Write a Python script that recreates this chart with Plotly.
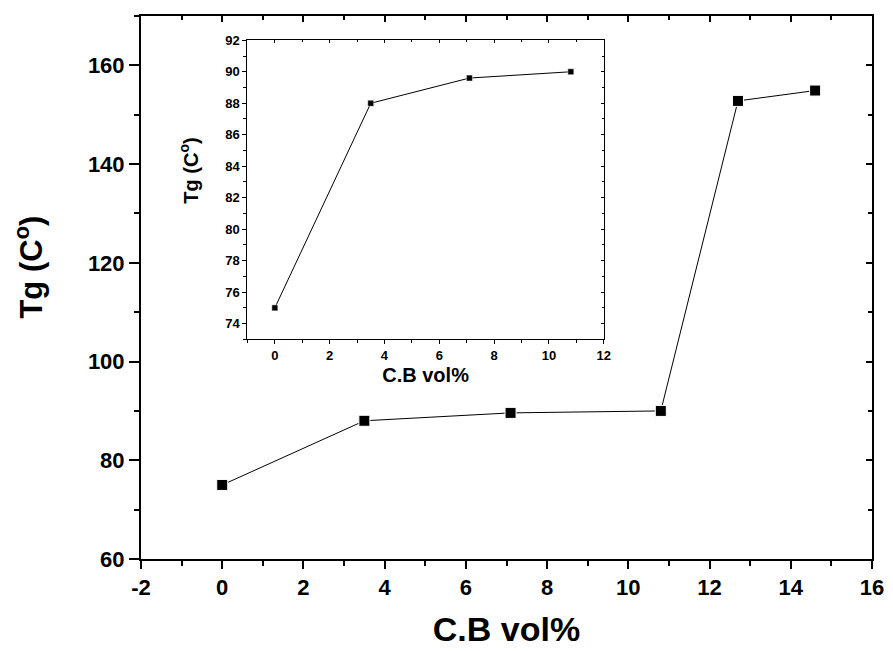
import plotly.graph_objects as go

# Glass transition temperature versus carbon black loading
cb_vol = [0, 3.5, 7.1, 10.8, 12.7, 14.6]
tg_main = [75, 88, 89.6, 90, 152.8, 154.9]

# Inset: first four loadings on an expanded scale
cb_vol_inset = [0, 3.5, 7.1, 10.8]
tg_inset = [75, 88, 89.6, 90]

main_xticks = [-2, 0, 2, 4, 6, 8, 10, 12, 14, 16]
main_yticks = [60, 80, 100, 120, 140, 160]
inset_xticks = [0, 2, 4, 6, 8, 10, 12]
inset_yticks = [74, 76, 78, 80, 82, 84, 86, 88, 90, 92]

FONT = "Liberation Sans, Arial, sans-serif"
BLACK = "#000000"

fig = go.Figure()

fig.add_trace(go.Scatter(
    x=cb_vol, y=tg_main, mode="lines+markers",
    line=dict(color=BLACK, width=1),
    marker=dict(symbol="square", size=11, color=BLACK,
                line=dict(color="#ffffff", width=1)),
    xaxis="x", yaxis="y", showlegend=False, cliponaxis=False,
))

fig.add_trace(go.Scatter(
    x=cb_vol_inset, y=tg_inset, mode="lines+markers",
    line=dict(color=BLACK, width=1),
    marker=dict(symbol="square", size=6, color=BLACK,
                line=dict(color="#ffffff", width=0.5)),
    xaxis="x2", yaxis="y2", showlegend=False, cliponaxis=False,
))

# transparent copies so the mirrored frame axes (top/right) get drawn
fig.add_trace(go.Scatter(
    x=cb_vol, y=tg_main, mode="markers", marker=dict(opacity=0),
    xaxis="x3", yaxis="y3", showlegend=False, hoverinfo="skip",
))
fig.add_trace(go.Scatter(
    x=cb_vol_inset, y=tg_inset, mode="markers", marker=dict(opacity=0),
    xaxis="x4", yaxis="y4", showlegend=False, hoverinfo="skip",
))

main_tickfont = dict(family=FONT, size=22, color=BLACK, weight="bold")
inset_tickfont = dict(family=FONT, size=13, color=BLACK, weight="bold")

layout = dict(
    width=893, height=651, autosize=False,
    margin=dict(l=141, r=19, t=9, b=89, pad=0),
    paper_bgcolor="white", plot_bgcolor="white",
    font=dict(family=FONT, color=BLACK),
    # main axes
    xaxis=dict(
        range=[-2, 16], domain=[0, 1], anchor="y",
        tickmode="array", tickvals=main_xticks, ticktext=[str(v) for v in main_xticks],
        ticks="outside", ticklen=8, tickwidth=2, tickcolor=BLACK,
        minor=dict(ticks="outside", dtick=1, tick0=-1, ticklen=5, tickwidth=2, tickcolor=BLACK),
        showline=True, linewidth=2, linecolor=BLACK, showgrid=False, zeroline=False,
        tickfont=main_tickfont,
        title=dict(text="C.B vol%", font=dict(family=FONT, size=34, color=BLACK, weight="bold"), standoff=18),
    ),
    yaxis=dict(
        range=[60, 170], domain=[0, 1], anchor="x",
        tickmode="array", tickvals=main_yticks, ticktext=[str(v) for v in main_yticks],
        ticks="outside", ticklen=10, tickwidth=2, tickcolor=BLACK,
        minor=dict(ticks="outside", dtick=10, tick0=70, ticklen=5, tickwidth=2, tickcolor=BLACK),
        showline=True, linewidth=2, linecolor=BLACK, showgrid=False, zeroline=False,
        tickfont=main_tickfont,
    ),
    # frame with inward ticks on top and right of the main plot
    xaxis3=dict(
        range=[-2, 16], domain=[0, 1], anchor="y3", overlaying="x", side="top",
        tickmode="array", tickvals=main_xticks, showticklabels=False,
        ticks="inside", ticklen=6, tickwidth=2, tickcolor=BLACK,
        minor=dict(ticks="inside", dtick=1, tick0=-1, ticklen=4, tickwidth=2, tickcolor=BLACK),
        showline=True, linewidth=2, linecolor=BLACK, showgrid=False, zeroline=False,
    ),
    yaxis3=dict(
        range=[60, 170], domain=[0, 1], anchor="x3", overlaying="y", side="right",
        tickmode="array", tickvals=main_yticks, showticklabels=False,
        ticks="inside", ticklen=6, tickwidth=2, tickcolor=BLACK,
        minor=dict(ticks="inside", dtick=10, tick0=70, ticklen=4, tickwidth=2, tickcolor=BLACK),
        showline=True, linewidth=2, linecolor=BLACK, showgrid=False, zeroline=False,
    ),
    # inset axes
    xaxis2=dict(
        range=[-1, 12], domain=[0.1456, 0.633], anchor="y2",
        tickmode="array", tickvals=inset_xticks, ticktext=[str(v) for v in inset_xticks],
        ticks="outside", ticklen=4, tickwidth=1, tickcolor=BLACK,
        minor=dict(ticks="outside", dtick=1, tick0=-1, ticklen=3, tickwidth=1, tickcolor=BLACK),
        showline=True, linewidth=1.2, linecolor=BLACK, showgrid=False, zeroline=False,
        tickfont=inset_tickfont,
        title=dict(text="C.B vol%", font=dict(family=FONT, size=20, color=BLACK, weight="bold"), standoff=5),
    ),
    yaxis2=dict(
        range=[73, 92], domain=[0.4045, 0.9553], anchor="x2",
        tickmode="array", tickvals=inset_yticks, ticktext=[str(v) for v in inset_yticks],
        ticks="outside", ticklen=4, tickwidth=1, tickcolor=BLACK,
        minor=dict(ticks="outside", dtick=1, tick0=73, ticklen=3, tickwidth=1, tickcolor=BLACK),
        showline=True, linewidth=1.2, linecolor=BLACK, showgrid=False, zeroline=False,
        tickfont=inset_tickfont,
    ),
    xaxis4=dict(
        range=[-1, 12], domain=[0.1456, 0.633], anchor="y4", overlaying="x2", side="top",
        tickmode="array", tickvals=inset_xticks, showticklabels=False,
        ticks="inside", ticklen=3, tickwidth=1, tickcolor=BLACK,
        minor=dict(ticks="inside", dtick=1, tick0=-1, ticklen=2, tickwidth=1, tickcolor=BLACK),
        showline=True, linewidth=1.2, linecolor=BLACK, showgrid=False, zeroline=False,
    ),
    yaxis4=dict(
        range=[73, 92], domain=[0.4045, 0.9553], anchor="x4", overlaying="y2", side="right",
        tickmode="array", tickvals=inset_yticks, showticklabels=False,
        ticks="inside", ticklen=3, tickwidth=1, tickcolor=BLACK,
        minor=dict(ticks="inside", dtick=1, tick0=73, ticklen=2, tickwidth=1, tickcolor=BLACK),
        showline=True, linewidth=1.2, linecolor=BLACK, showgrid=False, zeroline=False,
    ),
    annotations=[
        # main y-axis title
        dict(text="Tg (C<sup>o</sup>)", textangle=-90, showarrow=False,
             xref="paper", yref="paper", x=-0.153, y=0.537,
             xanchor="center", yanchor="middle",
             font=dict(family=FONT, size=31, color=BLACK, weight="bold")),
        # inset y-axis title
        dict(text="Tg (C<sup>o</sup>)", textangle=-90, showarrow=False,
             xref="paper", yref="paper", x=0.0655, y=0.715,
             xanchor="center", yanchor="middle",
             font=dict(family=FONT, size=20, color=BLACK, weight="bold")),
    ],
)

fig.update_layout(**layout)

fig.write_html("out.html")
